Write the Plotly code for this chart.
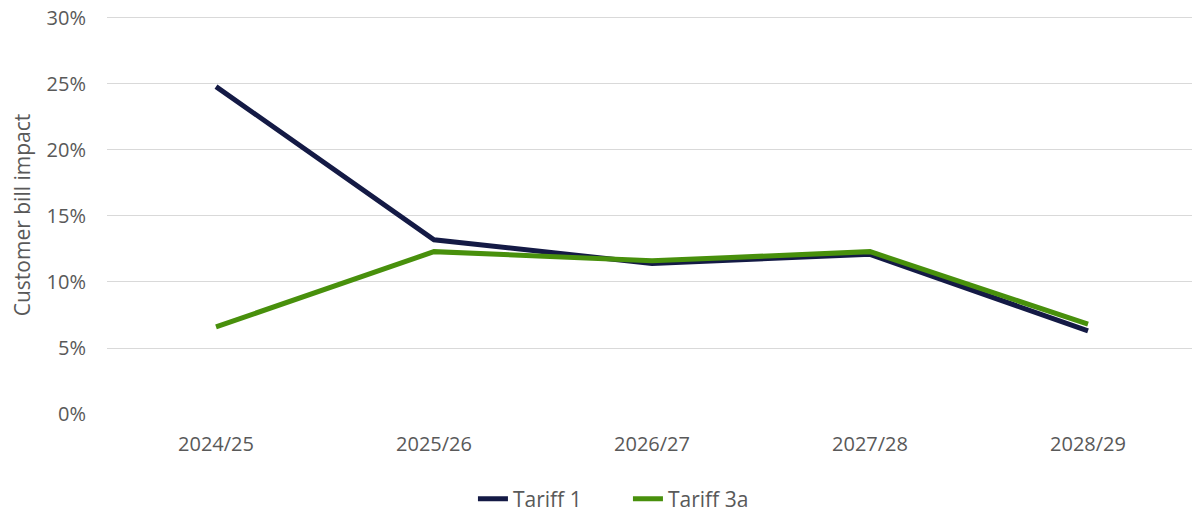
import plotly.graph_objects as go

years = ["2024/25", "2025/26", "2026/27", "2027/28", "2028/29"]
tariff_1 = [0.248, 0.132, 0.114, 0.121, 0.063]
tariff_3a = [0.066, 0.123, 0.116, 0.123, 0.068]
y_ticks = [0, 0.05, 0.10, 0.15, 0.20, 0.25, 0.30]

font_family = "Open Sans, Liberation Sans, sans-serif"
grey = "#595959"

fig = go.Figure()
fig.add_trace(go.Scatter(x=years, y=tariff_1, mode="lines", name="Tariff 1",
                         line=dict(color="#141A45", width=5)))
fig.add_trace(go.Scatter(x=years, y=tariff_3a, mode="lines", name="Tariff 3a",
                         line=dict(color="#48900C", width=5)))

fig.update_layout(
    width=1192, height=513,
    margin=dict(l=107, r=0, t=16, b=99),
    plot_bgcolor="white", paper_bgcolor="white",
    font=dict(family=font_family, size=20, color=grey),
    showlegend=True,
    legend=dict(orientation="h", xref="container", x=0.5268, xanchor="center",
                yref="container", y=0.0273, yanchor="middle",
                font=dict(size=21, color=grey), itemwidth=30,
                entrywidth=110, traceorder="normal"),
)
fig.update_xaxes(type="category", range=[-0.5, 4.477], showgrid=False,
                 showline=False, ticks="", tickfont=dict(size=20, color=grey),
                 ticklabelstandoff=16, automargin=False)
fig.update_yaxes(range=[0, 0.3015], tickvals=y_ticks, tickformat=".0%",
                 showgrid=True, gridcolor="#D9D9D9", gridwidth=1,
                 zeroline=False, showline=False, ticks="",
                 ticklabeloverflow="allow", automargin=False,
                 tickfont=dict(size=20, color=grey), ticklabelstandoff=20,
                 title=dict(text="Customer bill impact", font=dict(size=21, color=grey),
                            standoff=10))

fig.write_html("out.html",
               config={"displayModeBar": False},
               post_script="document.body.style.margin='0';document.body.style.overflow='hidden';")
